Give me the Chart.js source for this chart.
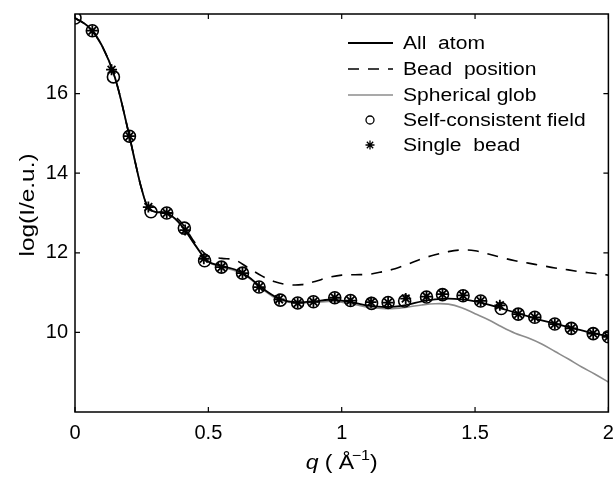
<!DOCTYPE html>
<html>
<head>
  <title>Scattering profiles</title>
  <script src="https://cdn.jsdelivr.net/npm/chart.js"></script>
  <style>
    html, body { margin: 0; padding: 0; background: #fff; }
    #wrap { width: 616px; height: 478px; }
  </style>
</head>
<body>
  <div id="wrap"><canvas id="chart" width="616" height="478"></canvas></div>

  <script>
    // q grid shared by the three computed curves
    const qLine = [0, 0.05, 0.1, 0.15, 0.2, 0.225, 0.25, 0.275, 0.3, 0.35, 0.4, 0.45, 0.5, 0.55, 0.6, 0.65,
      0.7, 0.75, 0.8, 0.85, 0.9, 0.95, 1.0, 1.05, 1.1, 1.15, 1.2, 1.25, 1.3, 1.35, 1.4, 1.45, 1.5, 1.55,
      1.6, 1.65, 1.7, 1.75, 1.8, 1.85, 1.9, 1.95, 2.0];
    const allAtom = [17.9, 17.68, 17.22, 16.4, 15.05, 14.3, 13.6, 13.12, 13.03, 12.98, 12.68, 12.2, 11.78, 11.67, 11.58, 11.4,
      11.12, 10.9, 10.78, 10.76, 10.78, 10.82, 10.8, 10.74, 10.67, 10.64, 10.65, 10.7, 10.78, 10.83, 10.85, 10.83, 10.78, 10.7,
      10.6, 10.5, 10.4, 10.3, 10.22, 10.13, 10.05, 9.97, 9.9];
    const beadPos = [17.9, 17.68, 17.22, 16.4, 15.05, 14.3, 13.6, 13.12, 13.03, 13.0, 12.75, 12.25, 11.92, 11.86, 11.82, 11.62,
      11.42, 11.27, 11.2, 11.2, 11.28, 11.38, 11.44, 11.45, 11.46, 11.52, 11.6, 11.72, 11.85, 11.95, 12.03, 12.07, 12.05, 11.97,
      11.88, 11.8, 11.74, 11.68, 11.62, 11.57, 11.52, 11.48, 11.44];
    const sphGlob = [17.9, 17.68, 17.22, 16.4, 15.05, 14.3, 13.6, 13.12, 13.03, 12.98, 12.68, 12.2, 11.78, 11.64, 11.55, 11.38,
      11.1, 10.87, 10.76, 10.74, 10.75, 10.78, 10.76, 10.7, 10.63, 10.6, 10.6, 10.64, 10.69, 10.72, 10.71, 10.62, 10.47, 10.32,
      10.14, 9.98, 9.86, 9.71, 9.52, 9.33, 9.13, 8.95, 8.75];

    // marker series
    const qScf = [0, 0.065, 0.144, 0.204, 0.285, 0.344, 0.41, 0.486, 0.549, 0.628, 0.69, 0.77, 0.835, 0.894, 0.974,
      1.033, 1.112, 1.174, 1.236, 1.318, 1.378, 1.455, 1.521, 1.598, 1.662, 1.724, 1.799, 1.861, 1.943, 2.0];
    const scf = [17.9, 17.58, 16.42, 14.93, 13.03, 13.0, 12.62, 11.8, 11.64, 11.49, 11.14, 10.81, 10.74, 10.77, 10.87,
      10.8, 10.73, 10.75, 10.79, 10.89, 10.95, 10.92, 10.79, 10.6, 10.46, 10.38, 10.21, 10.1, 9.97, 9.89];
    const qBead = [0.065, 0.137, 0.204, 0.275, 0.344, 0.413, 0.483, 0.549, 0.628, 0.69, 0.765, 0.835, 0.894, 0.974,
      1.033, 1.11, 1.174, 1.24, 1.318, 1.378, 1.455, 1.521, 1.593, 1.662, 1.724, 1.799, 1.861, 1.943, 2.0];
    const bead = [17.58, 16.6, 14.93, 13.15, 13.0, 12.57, 11.85, 11.64, 11.49, 11.14, 10.83, 10.74, 10.77, 10.87,
      10.8, 10.76, 10.75, 10.85, 10.9, 10.96, 10.93, 10.79, 10.68, 10.46, 10.38, 10.21, 10.1, 9.97, 9.89];

    const xTicks = [0, 0.5, 1, 1.5, 2];
    const yTicks = [10, 12, 14, 16];
    const labels = ["All  atom", "Bead  position", "Spherical glob", "Self-consistent field", "Single  bead"];

    const pts = (xs, ys) => xs.map((x, i) => ({ x: x, y: ys[i] }));
    const FONT = "'Liberation Sans', Arial, Helvetica, sans-serif";

    // matlab style box, inward ticks, axis titles and legend inside the axes
    const matlabBox = {
      id: "matlabBox",
      afterDraw(chart) {
        const ctx = chart.ctx;
        const a = chart.chartArea;
        const sx = chart.scales.x, sy = chart.scales.y;
        ctx.save();
        ctx.strokeStyle = "#000";
        ctx.lineWidth = 1.5;
        ctx.strokeRect(a.left, a.top, a.right - a.left, a.bottom - a.top);
        ctx.lineWidth = 1.2;
        ctx.beginPath();
        sx.ticks.forEach(t => {
          const x = sx.getPixelForValue(t.value);
          ctx.moveTo(x, a.bottom); ctx.lineTo(x, a.bottom - 5);
          ctx.moveTo(x, a.top); ctx.lineTo(x, a.top + 5);
        });
        sy.ticks.forEach(t => {
          const y = sy.getPixelForValue(t.value);
          ctx.moveTo(a.left, y); ctx.lineTo(a.left + 5, y);
          ctx.moveTo(a.right, y); ctx.lineTo(a.right - 5, y);
        });
        ctx.stroke();

        // axis titles
        ctx.fillStyle = "#000";
        ctx.textBaseline = "alphabetic";
        ctx.save();
        ctx.translate((a.left + a.right) / 2 - 36, 469);
        ctx.scale(1.15, 1);
        ctx.font = "italic 20px " + FONT;
        ctx.textAlign = "left";
        ctx.fillText("q", 0, 0);
        ctx.font = "20px " + FONT;
        ctx.fillText(" ( \u00C5", 11, 0);
        ctx.font = "14px " + FONT;
        ctx.fillText("\u22121", 40, -9);
        ctx.font = "20px " + FONT;
        ctx.fillText(")", 56, 0);
        ctx.restore();

        ctx.save();
        ctx.translate(34, (a.top + a.bottom) / 2 - 8);
        ctx.rotate(-Math.PI / 2);
        ctx.scale(1.22, 1);
        ctx.font = "20px " + FONT;
        ctx.textAlign = "center";
        ctx.fillText("log(I/e.u.)", 0, 0);
        ctx.restore();

        // legend
        const rows = [43, 69, 95, 120, 145];
        chart.data.datasets.forEach((ds, i) => {
          const y = rows[i];
          ctx.save();
          ctx.strokeStyle = ds.borderColor;
          if (ds.showLine === false) {
            ctx.lineWidth = 1.3;
            ctx.beginPath();
            if (ds.pointStyle === "circle") {
              ctx.arc(370, y, 4, 0, Math.PI * 2);
            } else {
              for (let k = 0; k < 4; k++) {
                const ang = k * Math.PI / 4;
                ctx.moveTo(370 - 4.5 * Math.cos(ang), y - 4.5 * Math.sin(ang));
                ctx.lineTo(370 + 4.5 * Math.cos(ang), y + 4.5 * Math.sin(ang));
              }
            }
            ctx.stroke();
          } else {
            ctx.lineWidth = ds.borderWidth;
            ctx.setLineDash(ds.borderDash || []);
            ctx.beginPath();
            ctx.moveTo(348, y); ctx.lineTo(393, y);
            ctx.stroke();
          }
          ctx.restore();
          ctx.save();
          ctx.translate(403, y);
          ctx.scale(1.17, 1);
          ctx.font = "18px " + FONT;
          ctx.textBaseline = "middle";
          ctx.textAlign = "left";
          ctx.fillStyle = "#000";
          ctx.fillText(ds.label, 0, 1);
          ctx.restore();
        });
        ctx.restore();
      }
    };

    new Chart(document.getElementById("chart").getContext("2d"), {
      type: "line",
      data: {
        datasets: [
          { label: labels[0], data: pts(qLine, allAtom), borderColor: "#000", borderWidth: 1.8,
            pointRadius: 0, tension: 0.35, order: 2 },
          { label: labels[1], data: pts(qLine, beadPos), borderColor: "#000", borderWidth: 1.6,
            borderDash: [11, 9], pointRadius: 0, tension: 0.35, order: 3 },
          { label: labels[2], data: pts(qLine, sphGlob), borderColor: "#8c8c8c", borderWidth: 1.6,
            pointRadius: 0, tension: 0.35, order: 4 },
          { label: labels[3], data: pts(qScf, scf), borderColor: "#000", backgroundColor: "rgba(0,0,0,0)",
            showLine: false, pointStyle: "circle", pointRadius: 6, pointBorderWidth: 1.6, order: 1 },
          { label: labels[4], data: pts(qBead, bead), borderColor: "#000", backgroundColor: "rgba(0,0,0,0)",
            showLine: false, pointStyle: "star", pointRadius: 5.5, pointBorderWidth: 1.8, order: 0 }
        ]
      },
      options: {
        responsive: false,
        animation: false,
        layout: { padding: { left: 0, right: 7, top: 14, bottom: 0 } },
        plugins: { legend: { display: false }, tooltip: { enabled: false } },
        scales: {
          x: {
            type: "linear", min: 0, max: 2,
            afterBuildTicks: s => { s.ticks = xTicks.map(v => ({ value: v })); },
            afterFit: s => { s.height = 66; s.paddingLeft = 0; s.paddingRight = 0; },
            grid: { display: false, drawTicks: false },
            border: { display: false },
            ticks: { color: "#000", padding: 9, font: { size: 20, family: FONT }, maxRotation: 0,
              callback: v => String(v) }
          },
          y: {
            type: "linear", min: 8, max: 18,
            afterBuildTicks: s => { s.ticks = yTicks.map(v => ({ value: v })); },
            afterFit: s => { s.width = 75; s.paddingTop = 0; s.paddingBottom = 0; },
            grid: { display: false, drawTicks: false },
            border: { display: false },
            ticks: { color: "#000", padding: 7, font: { size: 20, family: FONT }, callback: v => String(v) }
          }
        }
      },
      plugins: [matlabBox]
    });
  </script>
</body>
</html>
